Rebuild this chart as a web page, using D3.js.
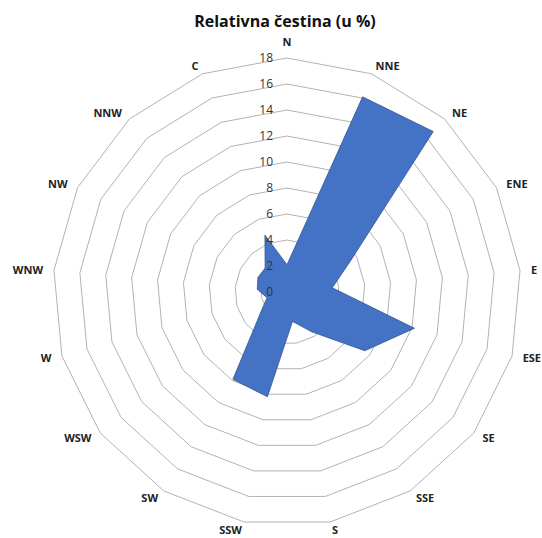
<!DOCTYPE html>
<html lang="en">
<head>
  <meta charset="UTF-8" />
  <title>Relativna čestina (u %)</title>
  <style>
    html, body {
      margin: 0;
      padding: 0;
      background: #fff;
    }
    svg {
      display: block;
    }
    .title {
      font-family: "Open Sans", sans-serif;
      font-weight: bold;
      font-size: 16px;
      fill: #111;
    }
    .cat {
      font-family: "Open Sans", sans-serif;
      font-weight: bold;
      font-size: 11px;
      fill: #222;
    }
    .tick {
      font-family: "Open Sans", sans-serif;
      font-size: 12px;
      fill: #333;
    }
  </style>
</head>
<body>
  <svg width="542" height="538"></svg>
  <script src="https://d3js.org/d3.v7.min.js"></script>
  <script>
    // wind directions, C = calm
    const directions = ['N', 'NNE', 'NE', 'ENE', 'E', 'ESE', 'SE', 'SSE', 'S',
                        'SSW', 'SW', 'WSW', 'W', 'WNW', 'NW', 'NNW', 'C'];
    // relative frequency in %
    const frequency = [2.1, 16.1, 16.7, 5.5, 3.5, 10.2, 7.5, 3.6, 2.3,
                       8.2, 7.9, 2.5, 1.6, 2.3, 2.5, 2.5, 4.7];
    const ticks = [0, 2, 4, 6, 8, 10, 12, 14, 16, 18];

    const svg = d3.select("svg"),
          cx = 287,
          cy = 292,
          radius = 234;

    const r = d3.scaleLinear().domain([0, 18]).range([0, radius]);
    const angle = d3.scaleLinear().domain([0, directions.length]).range([0, 2 * Math.PI]);

    svg.append("text")
      .attr("class", "title")
      .attr("x", 285)
      .attr("y", 27)
      .attr("text-anchor", "middle")
      .text("Relativna čestina (u %)");

    const g = svg.append("g").attr("transform", `translate(${cx},${cy})`);

    // polygon grid rings
    const ring = d3.lineRadial()
      .angle((d, i) => angle(i))
      .curve(d3.curveLinearClosed);

    g.append("g")
      .selectAll("path")
      .data(ticks.filter(t => t > 0))
      .join("path")
      .attr("d", t => ring.radius(r(t))(directions))
      .attr("fill", "none")
      .attr("stroke", "#b3b3b3")
      .attr("stroke-width", 1);

    // data series
    const area = d3.lineRadial()
      .angle((d, i) => angle(i))
      .radius(d => r(d))
      .curve(d3.curveLinearClosed);

    g.append("path")
      .datum(frequency)
      .attr("d", area)
      .attr("fill", "#4472C4")
      .attr("stroke", "#2F528F")
      .attr("stroke-width", 0.75);

    // value axis labels
    g.append("g")
      .selectAll("text")
      .data(ticks)
      .join("text")
      .attr("class", "tick")
      .attr("x", -14)
      .attr("y", t => -r(t))
      .attr("dy", "0.35em")
      .attr("text-anchor", "end")
      .text(t => t);

    // direction labels
    const labelR = radius + 11;
    g.append("g")
      .selectAll("text")
      .data(directions)
      .join("text")
      .attr("class", "cat")
      .attr("x", (d, i) => labelR * Math.sin(angle(i)))
      .attr("y", (d, i) => {
        const s = Math.sin(angle(i)), c = Math.cos(angle(i));
        if (Math.abs(s) < 0.01) return -labelR * c - 5 * Math.sign(c);
        return -(labelR - 3) * c;
      })
      .attr("dy", "0.35em")
      .attr("text-anchor", (d, i) => {
        const s = Math.sin(angle(i));
        return Math.abs(s) < 0.01 ? "middle" : (s > 0 ? "start" : "end");
      })
      .text(d => d);
  </script>
</body>
</html>
